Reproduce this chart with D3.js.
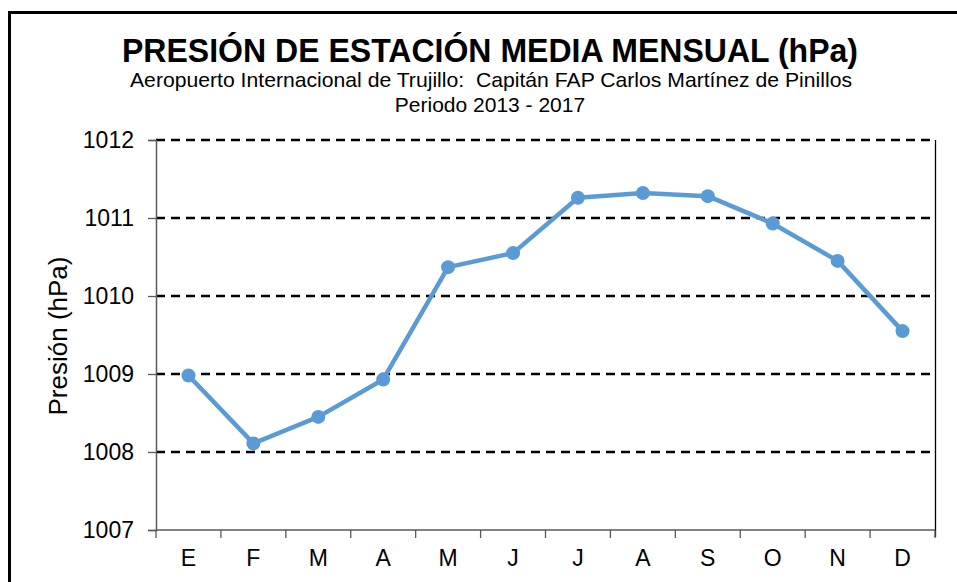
<!DOCTYPE html>
<html><head><meta charset="utf-8">
<script src="https://cdn.jsdelivr.net/npm/d3@7"></script>
<style>body{margin:0;background:#fff;} svg{display:block;font-family:"Liberation Sans",Arial,sans-serif;}</style>
</head><body>
<svg id="chart" width="957" height="582"></svg>
<script>
const months = ["E","F","M","A","M","J","J","A","S","O","N","D"];
const pressure = [1008.98, 1008.11, 1008.45, 1008.93, 1010.37, 1010.55, 1011.26, 1011.32, 1011.28, 1010.93, 1010.45, 1009.55];
const yTicks = [1007, 1008, 1009, 1010, 1011, 1012];
const title = "PRESIÓN DE ESTACIÓN MEDIA MENSUAL (hPa)";
const subtitle1 = "Aeropuerto Internacional de Trujillo:  Capitán FAP Carlos Martínez de Pinillos";
const subtitle2 = "Periodo 2013 - 2017";
const yLabel = "Presión (hPa)";

const svg = d3.select("#chart");
const m = {left:156, right:935, top:140, bottom:530};

svg.append("rect").attr("x",9.5).attr("y",12.5).attr("width",1000).attr("height",700)
  .attr("fill","#fff").attr("stroke","#000").attr("stroke-width",3);

const x = d3.scaleBand().domain(d3.range(months.length)).range([m.left, m.right]).padding(0);
const y = d3.scaleLinear().domain([1007,1012]).range([m.bottom, m.top]);

// gridlines
svg.append("g").selectAll("line").data(yTicks.filter(t=>t>1007)).join("line")
  .attr("x1",m.left).attr("x2",m.right).attr("y1",d=>y(d)).attr("y2",d=>y(d))
  .attr("stroke","#000").attr("stroke-width",2.5).attr("stroke-dasharray","9,6");

// right border
svg.append("line").attr("x1",m.right+0.5).attr("x2",m.right+0.5).attr("y1",m.top).attr("y2",m.bottom+7)
  .attr("stroke","#000").attr("stroke-width",1.3);

// y axis
const yAxis = svg.append("g").attr("transform",`translate(${m.left},0)`)
  .call(d3.axisLeft(y).tickValues(yTicks).tickSize(8).tickPadding(14).tickFormat(d3.format("d")));
yAxis.select(".domain").attr("stroke","#595959").attr("stroke-width",1.5);
yAxis.selectAll(".tick line").attr("stroke","#595959").attr("stroke-width",1.3);
yAxis.selectAll("text").attr("font-size",23).attr("fill","#000").attr("font-family","Liberation Sans, Arial, sans-serif");

// x axis with ticks at boundaries
const xAxisG = svg.append("g").attr("transform",`translate(0,${m.bottom})`);
xAxisG.append("line").attr("x1",m.left).attr("x2",m.right).attr("stroke","#595959").attr("stroke-width",1.5);
const bounds = d3.range(months.length+1).map(i => i < months.length ? x(i) : m.right);
xAxisG.selectAll(".bt").data(bounds).join("line").attr("class","bt")
  .attr("x1",d=>d).attr("x2",d=>d).attr("y1",0).attr("y2",8).attr("stroke","#595959").attr("stroke-width",1.3);
xAxisG.selectAll(".xl").data(months).join("text").attr("class","xl")
  .attr("x",(d,i)=>x(i)+x.bandwidth()/2).attr("y",36).attr("text-anchor","middle")
  .attr("font-size",23).attr("fill","#000").text(d=>d);

// line
const cx = i => x(i)+x.bandwidth()/2;
svg.append("path").datum(pressure)
  .attr("d", d3.line().x((d,i)=>cx(i)).y(d=>y(d)))
  .attr("fill","none").attr("stroke","#5B9BD5").attr("stroke-width",4.5).attr("stroke-linejoin","round");
svg.append("g").selectAll("circle").data(pressure).join("circle")
  .attr("cx",(d,i)=>cx(i)).attr("cy",d=>y(d)).attr("r",7).attr("fill","#5B9BD5");

// titles
svg.append("text").attr("x",490).attr("y",62).attr("text-anchor","middle")
  .attr("font-size",34).attr("font-weight","bold").attr("fill","#000")
  .attr("textLength",736).attr("lengthAdjust","spacingAndGlyphs").text(title);
svg.append("text").attr("x",491).attr("y",87).attr("text-anchor","middle")
  .style("white-space","pre")
  .attr("font-size",21).attr("fill","#000")
  .attr("textLength",722).attr("lengthAdjust","spacingAndGlyphs").text(subtitle1);
svg.append("text").attr("x",490).attr("y",112).attr("text-anchor","middle")
  .attr("font-size",21).attr("fill","#000").text(subtitle2);

svg.append("text").attr("transform",`translate(67,336) rotate(-90)`).attr("text-anchor","middle")
  .attr("font-size",26).attr("fill","#000").text(yLabel);
</script>
</body></html>
